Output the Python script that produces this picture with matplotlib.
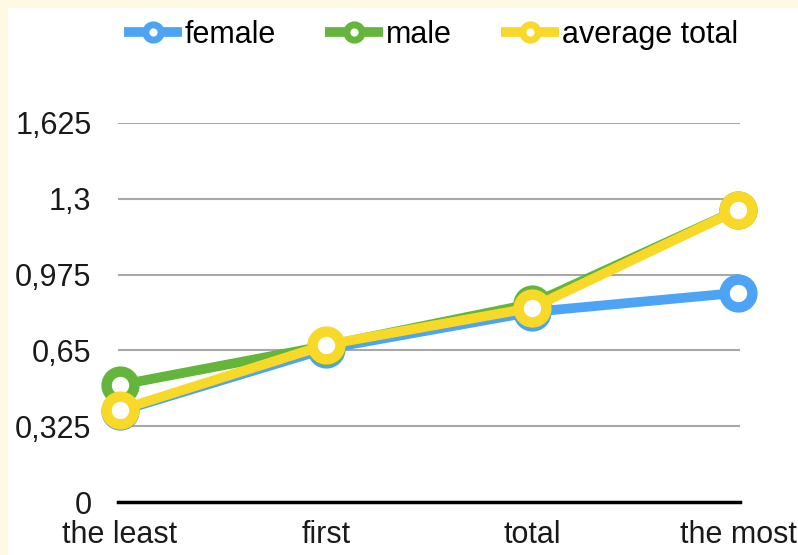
import matplotlib
matplotlib.use("Agg")
import matplotlib.pyplot as plt
from matplotlib.lines import Line2D
from matplotlib.patches import Rectangle

categories = ["the least", "first", "total", "the most"]
female = [0.39, 0.657, 0.815, 0.897]
male = [0.502, 0.67, 0.85, 1.253]
average_total = [0.395, 0.674, 0.833, 1.253]
series_names = ["female", "male", "average total"]
yticks = [0, 0.325, 0.65, 0.975, 1.3, 1.625]
ytick_labels = ["0", "0,325", "0,65", "0,975", "1,3", "1,625"]

colors = ["#4DA3F4", "#63B53B", "#F8D928"]

plt.rcParams['font.family'] = ['Liberation Sans', 'DejaVu Sans']

fig = plt.figure(figsize=(7.98, 5.55), dpi=100)
fig.patch.set_facecolor("#FFF9E4")
fig.patches.append(Rectangle((8/798, 0), 1, 1 - 8/555, transform=fig.transFigure,
                             facecolor="white", edgecolor="none", zorder=-10))

ax = fig.add_axes([118/798, (555-502)/555, (740-118)/798, (502-123)/555])
ax.set_facecolor("none")

x = list(range(len(categories)))
for vals, c, name in zip([female, male, average_total], colors, series_names):
    ax.plot(x, vals, color=c, lw=7, marker="o", ms=20, mew=7.5,
            mfc="white", mec=c, clip_on=False, zorder=3, label=name,
            solid_capstyle="round")

ax.set_xlim(-0.01, 3.01)
ax.set_ylim(0, 1.625)
ax.set_yticks(yticks)
ax.set_yticklabels(ytick_labels)
ax.set_xticks(x)
ax.set_xticklabels(categories)
ax.tick_params(axis="both", length=0, labelsize=22, colors="#1a1a1a")
ax.tick_params(axis="y", pad=19)
ax.tick_params(axis="x", pad=13)
ax.grid(axis="y", color="#A8A8A8", lw=1.5)
ax.set_axisbelow(True)
for s in ["top", "right", "left"]:
    ax.spines[s].set_visible(False)
ax.spines["bottom"].set_color("black")
ax.spines["bottom"].set_linewidth(2.5)
ax.spines["bottom"].set_zorder(2)

handles = [Line2D([0], [0], color=c, lw=7, marker="o", ms=11, mew=5,
                  mfc="white", mec=c, solid_capstyle="butt") for c in colors]
fig.legend(handles, series_names, loc="center", bbox_to_anchor=(0.54, 1 - 35/555),
           ncol=3, frameon=False, fontsize=22, handlelength=1.9,
           handletextpad=0.1, columnspacing=1.6)

fig.savefig("out.png", dpi=100, facecolor=fig.get_facecolor())
